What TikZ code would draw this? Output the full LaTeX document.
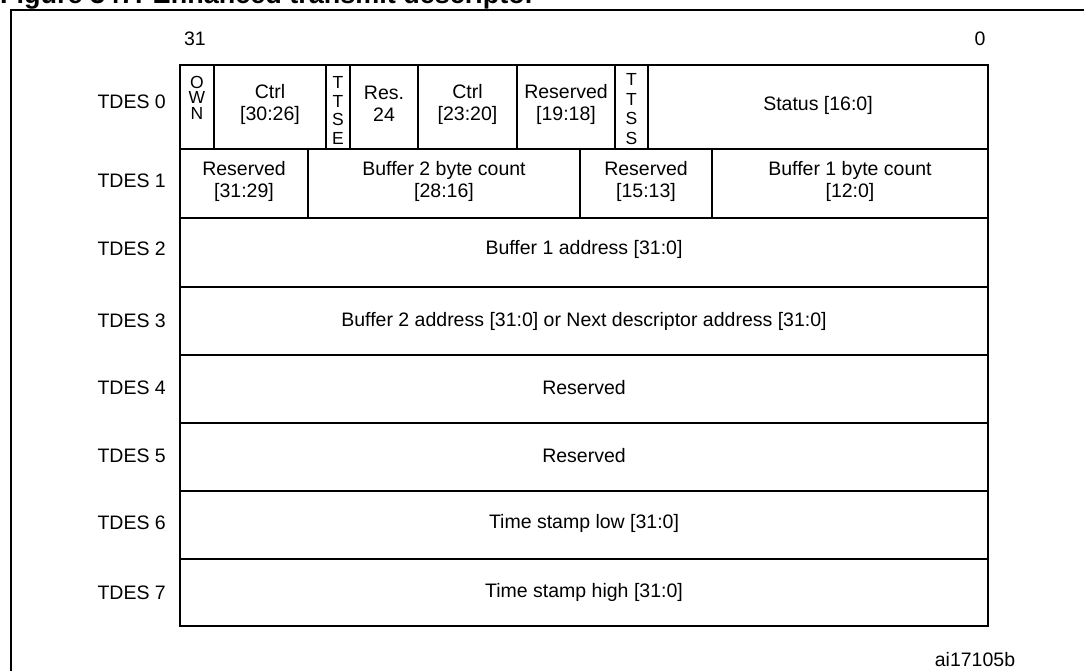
\documentclass[tikz,border=0pt]{standalone}
\usepackage{fontspec}
\setmainfont{Liberation Sans}
\newcommand\cellfont{\fontsize{19.5}{22}\selectfont}
% name, x1, x2, y1, y2, text, text y, text options
\newcommand\cellbox[8]{%
  \node[cell, minimum width={(#3-#2)*1pt}, minimum height={(#5-#4)*1pt}]
    (#1) at ({(#2+#3)/2},{(#4+#5)/2}) {};
  \node[plain, #8] (#1-t) at ({(#2+#3)/2},#7) {#6};}
\begin{document}
\begin{tikzpicture}[x=1pt,y=-1pt,
  cell/.style={draw, line width=1.3pt, inner sep=0pt, outer sep=0pt},
  rowlabel/.style={anchor=east, inner sep=0pt, font=\cellfont},
  plain/.style={inner sep=0pt, align=center, font=\cellfont},
  vown/.style={font=\fontsize{17.5}{15.5}\selectfont},
  vttse/.style={font=\fontsize{17.5}{18.5}\selectfont},
  vttss/.style={font=\fontsize{17.5}{19.5}\selectfont},
  frame/.style={line width=2pt}]
\useasboundingbox (0,0) rectangle (1084,671);
\clip (0,0) rectangle (1084,671);
% title (cut off at top)
\node[anchor=base west, inner sep=0pt, font=\fontsize{27}{30}\selectfont\bfseries]
  (title) at (0,4) {Figure 347. Enhanced transmit descriptor};
% outer frame
\coordinate (fbl) at (11,700);
\coordinate (ftl) at (11,10);
\coordinate (ftr) at (1100,10);
\draw[frame] (fbl) -- (ftl) -- (ftr);
% bit numbers
\node[plain] (b31) at (195,39) {31};
\node[plain] (b0) at (980,39) {0};
% TDES 0
\cellbox{own}{180}{214}{65}{149}{O\\W\\N}{97.5}{vown}
\cellbox{ctrla}{214}{326}{65}{149}{Ctrl\\{[30:26]}}{104}{}
\cellbox{ttse}{326}{350}{65}{149}{T\\T\\S\\E}{110.5}{vttse}
\cellbox{res24}{350}{418}{65}{149}{Res.\\24}{104}{}
\cellbox{ctrlb}{418}{517}{65}{149}{Ctrl\\{[23:20]}}{104}{}
\cellbox{resa}{517}{615}{65}{149}{Reserved\\{[19:18]}}{104}{}
\cellbox{ttss}{615}{648}{65}{149}{T\\T\\S\\S}{109}{vttss}
\cellbox{status}{648}{988}{65}{149}{Status [16:0]}{105}{}
% TDES 1
\cellbox{resb}{180}{308}{149}{218}{Reserved\\{[31:29]}}{181}{}
\cellbox{b2cnt}{308}{580}{149}{218}{Buffer 2 byte count\\{[28:16]}}{181}{}
\cellbox{resc}{580}{712}{149}{218}{Reserved\\{[15:13]}}{181}{}
\cellbox{b1cnt}{712}{988}{149}{218}{Buffer 1 byte count\\{[12:0]}}{181}{}
% TDES 2..7
\cellbox{d2}{180}{988}{218}{287}{Buffer 1 address [31:0]}{249}{}
\cellbox{d3}{180}{988}{287}{355}{Buffer 2 address [31:0] or Next descriptor address [31:0]}{321}{}
\cellbox{d4}{180}{988}{355}{423}{Reserved}{388}{}
\cellbox{d5}{180}{988}{423}{491}{Reserved}{456}{}
\cellbox{d6}{180}{988}{491}{559}{Time stamp low [31:0]}{523}{}
\cellbox{d7}{180}{988}{559}{626}{Time stamp high [31:0]}{592}{}
% row labels
\node[rowlabel] (l0) at (166,102) {TDES 0};
\node[rowlabel] (l1) at (166,181) {TDES 1};
\node[rowlabel] (l2) at (166,249) {TDES 2};
\node[rowlabel] (l3) at (166,321) {TDES 3};
\node[rowlabel] (l4) at (166,388) {TDES 4};
\node[rowlabel] (l5) at (166,456) {TDES 5};
\node[rowlabel] (l6) at (166,523) {TDES 6};
\node[rowlabel] (l7) at (166,593) {TDES 7};
% reference code
\node[plain] (code) at (975,660) {ai17105b};
\end{tikzpicture}
\end{document}
